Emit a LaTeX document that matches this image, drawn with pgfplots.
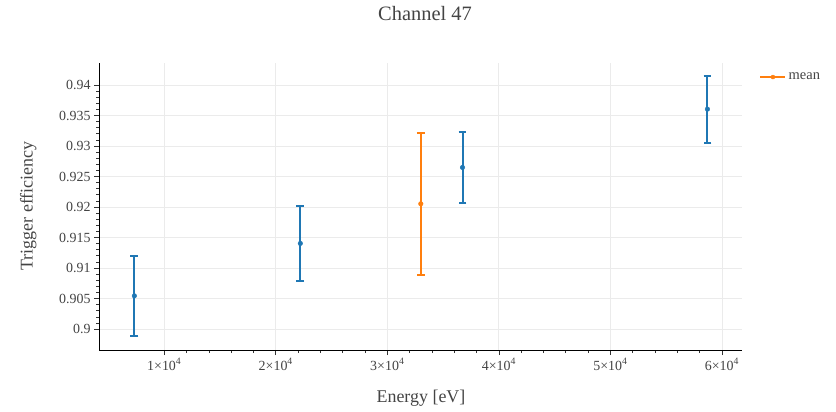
\documentclass[border=0pt]{standalone}
\usepackage{pgfplots}
\pgfplotsset{compat=1.18}
\usepackage{fontspec}
\setmainfont{Liberation Serif}
\definecolor{cblue}{HTML}{1F77B4}
\definecolor{corange}{HTML}{FF7F0E}
\definecolor{txt}{HTML}{444444}
\definecolor{gridc}{HTML}{EBEBEB}
\begin{document}
\begin{tikzpicture}[x=1bp,y=1bp]
\path[use as bounding box] (0,0) rectangle (836,411);
\begin{axis}[at={(99bp,61bp)}, anchor=south west, scale only axis,
  width=643bp, height=287bp,
  xmin=4150, xmax=61800, ymin=0.89656, ymax=0.9436,
  axis x line*=bottom, axis y line*=left,
  axis line style={-, black, line width=0.8bp},
  tick align=outside,
  major tick length=5bp, minor tick length=3bp,
  tick style={black!80, line width=0.6bp},
  grid=major, major grid style={gridc, line width=0.8bp},
  scaled x ticks=false,
  xtick={10000,20000,30000,40000,50000,60000},
  xticklabels={1×10\textsuperscript{4},2×10\textsuperscript{4},3×10\textsuperscript{4},4×10\textsuperscript{4},5×10\textsuperscript{4},6×10\textsuperscript{4}},
  ytick={0.9,0.905,0.91,0.915,0.92,0.925,0.93,0.935,0.94},
  minor x tick num=4, minor y tick num=4,
  yticklabel style={/pgf/number format/fixed, /pgf/number format/precision=3},
  /pgf/number format/assume math mode=true,
  tick label style={font=\fontsize{14}{16}\selectfont, text=txt},
  legend style={at={(1.0264,0.951)}, anchor=west, draw=none, fill=none, inner sep=0pt,
    font=\fontsize{14.5}{16}\selectfont, text=txt},
  legend cell align=left,
  clip=false,
]
\addplot[color=cblue, only marks, mark=*, mark size=2.3bp, mark options={solid, draw=cblue, fill=cblue}, forget plot,
  error bars/.cd, y dir=both, y explicit,
  error bar style={solid, line width=2bp, draw=cblue},
  error mark options={solid, rotate=90, mark size=3.9bp, line width=2bp, draw=cblue}]
  coordinates {
  (7320,0.90543) +- (0,0.00653)
  (22200,0.91403) +- (0,0.00613)
  (36740,0.92648) +- (0,0.00582)
  (58700,0.93604) +- (0,0.00550)
  };
\addplot[color=corange, only marks, mark=*, mark size=2.3bp, mark options={solid, draw=corange, fill=corange},
  legend image code/.code={\draw[corange, line width=2.5bp] (0bp,0bp) -- (25bp,0bp); \fill[corange] (12.5bp,0bp) circle (2bp);},
  error bars/.cd, y dir=both, y explicit,
  error bar style={solid, line width=2bp, draw=corange},
  error mark options={solid, rotate=90, mark size=3.9bp, line width=2bp, draw=corange}]
  coordinates {
  (33000,0.92052) +- (0,0.01167)
  };
\addlegendentry{mean}
\end{axis}
\node[text=txt, font=\fontsize{20.5}{22}\selectfont, anchor=base] at (425,390.3) {Channel 47};
\node[text=txt, font=\fontsize{18}{20}\selectfont, anchor=base] at (421,9) {Energy [eV]};
\node[text=txt, font=\fontsize{18}{20}\selectfont, rotate=90, anchor=base] at (32.5,205) {Trigger efficiency};
\end{tikzpicture}
\end{document}
